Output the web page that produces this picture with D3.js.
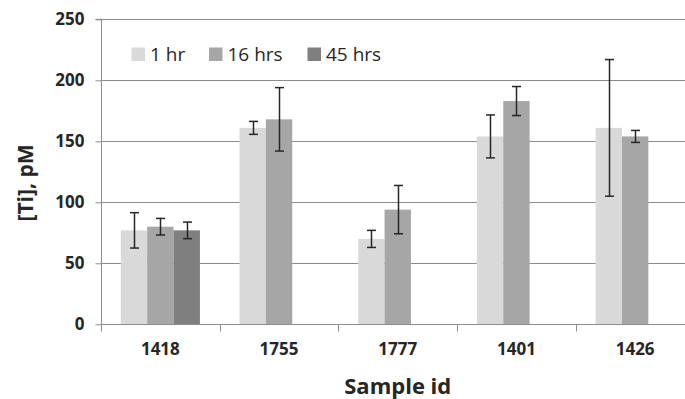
<!DOCTYPE html>
<html>
<head>
<meta charset="utf-8">
<script src="https://cdn.jsdelivr.net/npm/d3@7"></script>
<style>
  html, body { margin: 0; padding: 0; background: #fff; }
  svg { display: block; }
  text { font-family: "Open Sans", Lato, sans-serif; fill: #262626; }
</style>
</head>
<body>
<svg id="chart" width="685" height="399"></svg>
<script>
const categories = ["1418", "1755", "1777", "1401", "1426"];
const seriesNames = ["1 hr", "16 hrs", "45 hrs"];
const values1hr  = [77, 161, 70, 154, 161];
const values16hr = [80, 168, 94, 183, 154];
const values45hr = [77, null, null, null, null];
const err1hr  = [14.5, 5.3, 7, 17.6, 56];
const err16hr = [6.8, 26, 19.8, 11.9, 4.9];
const err45hr = [6.8, null, null, null, null];
const yTicks = [0, 50, 100, 150, 200, 250];
const colors = ["#d9d9d9", "#a6a6a6", "#7f7f7f"];

const seriesValues = [values1hr, values16hr, values45hr];
const seriesErrors = [err1hr, err16hr, err45hr];

const svg = d3.select("#chart");
const mLeft = 101, mRight = 694.5, mTop = 19.3, mBottom = 324.3;

const x = d3.scaleBand().domain(categories).range([mLeft, mRight]).padding(0);
const xs = d3.scaleBand().domain(seriesNames).range([0, x.bandwidth()])
  .paddingInner(0).paddingOuter(0.75);
const y = d3.scaleLinear().domain([0, 250]).range([mBottom, mTop]);

// gridlines
svg.append("g").selectAll("line").data(yTicks.filter(d => d > 0)).join("line")
  .attr("x1", mLeft).attr("x2", 685)
  .attr("y1", d => Math.round(y(d)) + 0.5).attr("y2", d => Math.round(y(d)) + 0.5)
  .attr("stroke", "#8c8c8c").attr("stroke-width", 1);

// bars
const data = [];
seriesNames.forEach((s, si) => {
  categories.forEach((c, ci) => {
    const v = seriesValues[si][ci];
    if (v != null) data.push({ s, si, c, v, e: seriesErrors[si][ci] });
  });
});

svg.append("g").selectAll("rect").data(data).join("rect")
  .attr("x", d => x(d.c) + xs(d.s))
  .attr("width", xs.bandwidth())
  .attr("y", d => y(d.v))
  .attr("height", d => y(0) - y(d.v))
  .attr("fill", d => colors[d.si]);

// error bars
const eg = svg.append("g").attr("stroke", "#262626").attr("stroke-width", 1.5);
data.forEach(d => {
  const cx = Math.round(x(d.c) + xs(d.s) + xs.bandwidth() / 2) + 0.5;
  const y1 = y(d.v + d.e), y2 = y(d.v - d.e);
  eg.append("line").attr("x1", cx).attr("x2", cx).attr("y1", y1).attr("y2", y2);
  eg.append("line").attr("x1", cx - 4.5).attr("x2", cx + 4.5).attr("y1", y1).attr("y2", y1);
  eg.append("line").attr("x1", cx - 4.5).attr("x2", cx + 4.5).attr("y1", y2).attr("y2", y2);
});

// y axis
const yAxis = d3.axisLeft(y).tickValues(yTicks).tickSize(6).tickPadding(11);
const gy = svg.append("g").attr("transform", `translate(${mLeft + 0.5},0)`).call(yAxis);
gy.select(".domain").attr("stroke", "#8c8c8c").attr("d", `M-6,${y(250)}H0V${mBottom}`);
gy.selectAll(".tick line").attr("stroke", "#8c8c8c");
gy.selectAll(".tick text").attr("font-size", 17).attr("font-weight", "bold")
  .attr("font-family", "'Open Sans', sans-serif").attr("fill", "#262626");

// x axis
const xAxis = d3.axisBottom(x).tickSize(0).tickPadding(18);
const gx = svg.append("g").attr("transform", `translate(0,${Math.round(mBottom) + 0.5})`).call(xAxis);
gx.select(".domain").attr("stroke", "#8c8c8c").attr("d", `M${mLeft},0H685`);
gx.selectAll(".tick text").attr("font-size", 17).attr("font-weight", "bold")
  .attr("font-family", "'Liberation Serif', serif").attr("fill", "#262626");
// category boundary tick marks
gx.append("g").selectAll("line").data(categories).join("line")
  .attr("x1", d => Math.round(x(d)) + 0.5).attr("x2", d => Math.round(x(d)) + 0.5)
  .attr("y1", 0).attr("y2", 7).attr("stroke", "#8c8c8c");

// axis titles
svg.append("text").attr("x", (mLeft + mRight) / 2).attr("y", 394)
  .attr("text-anchor", "middle").attr("font-size", 22).attr("font-weight", "bold")
  .text("Sample id");
svg.append("text").attr("transform", `translate(33,183) rotate(-90)`)
  .attr("text-anchor", "middle").attr("font-size", 21).attr("font-weight", "bold")
  .text("[Ti], pM");

// legend
const legendX = [131.5, 209, 307.5];
const lg = svg.append("g");
seriesNames.forEach((s, i) => {
  lg.append("rect").attr("x", legendX[i]).attr("y", 47.5).attr("width", 13.5).attr("height", 13.5)
    .attr("fill", colors[i]);
  lg.append("text").attr("x", legendX[i] + 18.5).attr("y", 61)
    .attr("font-size", 19).text(s);
});
</script>
</body>
</html>
